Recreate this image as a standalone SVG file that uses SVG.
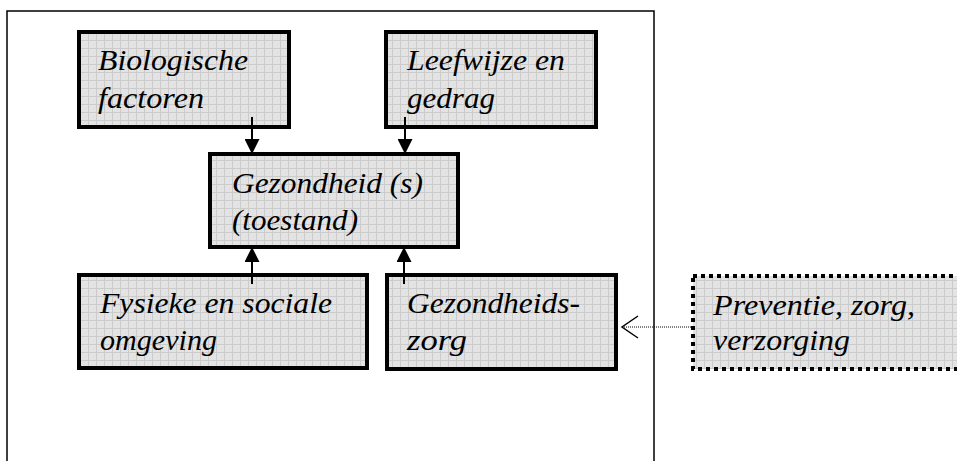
<svg xmlns="http://www.w3.org/2000/svg" width="957" height="461" viewBox="0 0 957 461">
<style>
.box{fill:url(#grid);stroke:#000;stroke-width:4}
.dot{fill:url(#grid);stroke:#000;stroke-width:4;stroke-dasharray:4 4}
text{font-family:'Liberation Serif','DejaVu Serif',serif;font-style:italic;font-size:29px;fill:#000}
.c{stroke:#000;stroke-width:2;fill:none}
</style>
<defs>
<pattern id="grid" width="8" height="8" patternUnits="userSpaceOnUse">
<rect width="8" height="8" fill="#e3e3e3"/>
<path d="M0 0.5H8M0.5 0V8" stroke="#cbcbcb" stroke-width="1"/>
</pattern>
<marker id="ah" viewBox="0 0 10 10" refX="10" refY="5" markerWidth="7.5" markerHeight="7.5" orient="auto" markerUnits="strokeWidth">
<path d="M0 0L10 5L0 10Z" fill="#000"/>
</marker>
</defs>
<rect x="0" y="0" width="957" height="461" fill="#fff"/>
<path d="M7 461V11H654V461" fill="none" stroke="#000" stroke-width="1.5"/>
<g id="biologische">
<rect class="box" x="79" y="32" width="210" height="95"/>
<text x="98" y="70" textLength="150" lengthAdjust="spacingAndGlyphs">Biologische</text>
<text x="98" y="108" textLength="106" lengthAdjust="spacingAndGlyphs">factoren</text>
</g>
<g id="leefwijze">
<rect class="box" x="386" y="32" width="210" height="95"/>
<text x="407" y="70" textLength="158" lengthAdjust="spacingAndGlyphs">Leefwijze en</text>
<text x="407" y="108" textLength="88" lengthAdjust="spacingAndGlyphs">gedrag</text>
</g>
<g id="gezondheid">
<rect class="box" x="210" y="154" width="248" height="93"/>
<text x="232" y="193" textLength="191" lengthAdjust="spacingAndGlyphs">Gezondheid (s)</text>
<text x="232" y="230" textLength="126" lengthAdjust="spacingAndGlyphs">(toestand)</text>
</g>
<g id="fysieke">
<rect class="box" x="79" y="275" width="288" height="93"/>
<text x="100" y="313" textLength="232" lengthAdjust="spacingAndGlyphs">Fysieke en sociale</text>
<text x="100" y="350" textLength="117" lengthAdjust="spacingAndGlyphs">omgeving</text>
</g>
<g id="gezondheidszorg">
<rect class="box" x="387" y="275" width="229" height="94"/>
<text x="407" y="313" textLength="173" lengthAdjust="spacingAndGlyphs">Gezondheids-</text>
<text x="407" y="350" textLength="60" lengthAdjust="spacingAndGlyphs">zorg</text>
</g>
<g id="preventie">
<rect class="dot" x="693" y="276" width="290" height="93"/>
<text x="713" y="315" textLength="202" lengthAdjust="spacingAndGlyphs">Preventie, zorg,</text>
<text x="713" y="350" textLength="137" lengthAdjust="spacingAndGlyphs">verzorging</text>
</g>
<g id="connectors">
<line class="c" x1="252" y1="117" x2="252" y2="154" marker-end="url(#ah)"/>
<line class="c" x1="405" y1="117" x2="405" y2="154" marker-end="url(#ah)"/>
<line class="c" x1="252" y1="284" x2="252" y2="247" marker-end="url(#ah)"/>
<line class="c" x1="404" y1="284" x2="404" y2="247" marker-end="url(#ah)"/>
<line x1="691" y1="327" x2="622" y2="327" stroke="#000" stroke-width="1" stroke-dasharray="1 1"/>
<path d="M638 316L622 327L638 338" fill="none" stroke="#000" stroke-width="1.5"/>
</g>
</svg>
